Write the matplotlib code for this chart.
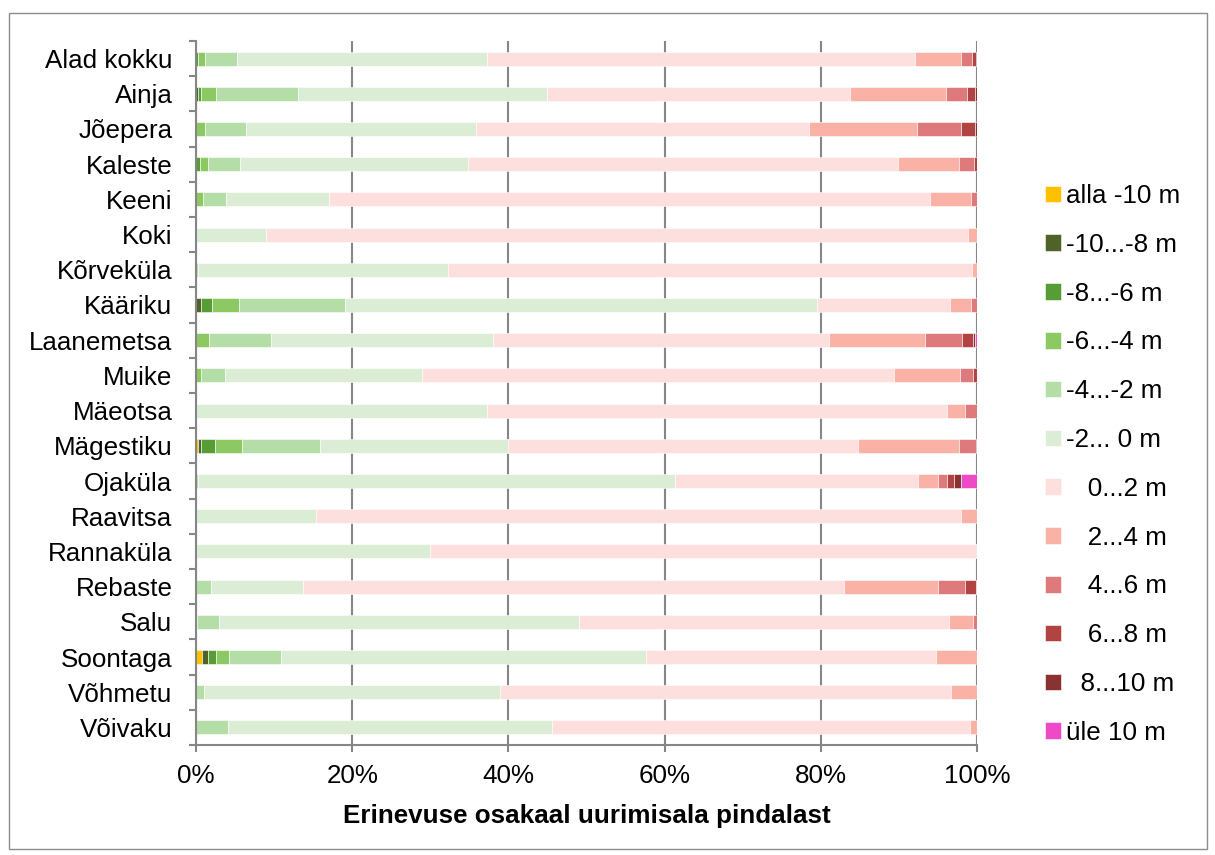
import matplotlib
matplotlib.use("Agg")
import matplotlib.pyplot as plt
from matplotlib.patches import Rectangle
from matplotlib.ticker import FixedLocator, PercentFormatter
import numpy as np

plt.rcParams['font.family'] = ['Liberation Sans', 'DejaVu Sans']

areas = ["Alad kokku", "Ainja", "Jõepera", "Kaleste", "Keeni", "Koki",
         "Kõrveküla", "Kääriku", "Laanemetsa", "Muike", "Mäeotsa",
         "Mägestiku", "Ojaküla", "Raavitsa", "Rannaküla", "Rebaste", "Salu",
         "Soontaga", "Võhmetu", "Võivaku"]

class_labels = ["alla -10 m", "-10...-8 m", "-8...-6 m", "-6...-4 m",
                "-4...-2 m", "-2... 0 m", "   0...2 m", "   2...4 m",
                "   4...6 m", "   6...8 m", "  8...10 m", "üle 10 m"]

# share of each height-difference class (%), one value per area
below_10 = [0, 0, 0, 0, 0, 0, 0, 0, 0, 0, 0, 0.3, 0, 0, 0, 0, 0, 0.8, 0, 0]
m10_m8 = [0, 0.2, 0, 0, 0, 0, 0, 0.6, 0, 0, 0, 0.4, 0, 0, 0, 0, 0, 0.7, 0, 0]
m8_m6 = [0.3, 0.4, 0, 0.5, 0, 0, 0, 1.5, 0, 0, 0, 1.7, 0, 0, 0, 0, 0, 1.0, 0, 0]
m6_m4 = [0.9, 2.0, 1.2, 1.0, 0.9, 0, 0, 3.4, 1.6, 0.6, 0, 3.5, 0, 0, 0, 0, 0.1, 1.7, 0, 0]
m4_m2 = [4.0, 10.4, 5.2, 4.1, 2.9, 0, 0.3, 13.6, 8.0, 3.1, 0, 10.0, 0.2, 0, 0, 1.9, 2.9, 6.7, 1.0, 4.1]
m2_0 = [32.0, 31.9, 29.4, 29.2, 13.2, 8.9, 32.0, 60.2, 28.3, 25.2, 37.2, 24.1, 61.1, 15.4, 29.9, 11.8, 46.0, 46.6, 37.9, 41.5]
p0_2 = [54.9, 38.9, 42.7, 55.0, 76.8, 89.9, 67.1, 17.0, 43.0, 60.5, 58.9, 44.7, 31.2, 82.4, 70.0, 69.3, 47.3, 37.2, 57.7, 53.5]
p2_4 = [5.9, 12.2, 13.8, 7.8, 5.2, 1.2, 0.6, 2.7, 12.2, 8.4, 2.4, 13.0, 2.5, 2.1, 0.1, 12.0, 3.1, 5.2, 3.3, 0.9]
p4_6 = [1.4, 2.7, 5.6, 1.9, 0.8, 0, 0, 0.8, 4.8, 1.7, 1.5, 2.2, 1.2, 0, 0, 3.4, 0.5, 0, 0, 0]
p6_8 = [0.5, 1.1, 1.8, 0.4, 0, 0, 0, 0, 1.4, 0.5, 0, 0.1, 0.9, 0, 0, 1.5, 0, 0, 0, 0]
p8_10 = [0.1, 0.2, 0.3, 0, 0, 0, 0, 0, 0.3, 0, 0, 0, 0.9, 0, 0, 0, 0, 0, 0, 0]
above_10 = [0, 0, 0, 0, 0, 0, 0, 0, 0.2, 0, 0, 0, 2.0, 0, 0, 0.1, 0, 0, 0, 0]

series = [below_10, m10_m8, m8_m6, m6_m4, m4_m2, m2_0,
          p0_2, p2_4, p4_6, p6_8, p8_10, above_10]

colors = ["#FFC000", "#4F6228", "#589C36", "#8DC963", "#B4DDA8", "#DCEDD6",
          "#FDE0DE", "#F9B2A5", "#DF7A7C", "#B14442", "#8A3232", "#EE4AC8"]

data = np.array(series, dtype=float)
shares = data / data.sum(axis=0) * 100.0

W, H = 1215, 855
fig = plt.figure(figsize=(W / 100, H / 100), dpi=100)
ax = fig.add_axes([196 / W, 1 - 745 / H, (977 - 196) / W, (745 - 41) / H])

y = np.arange(len(areas))
left = np.zeros(len(areas))
handles = []
for vals, col, lab in zip(shares, colors, class_labels):
    b = ax.barh(y, vals, left=left, height=0.4, color=col, label=lab,
                edgecolor="white", linewidth=0.4, zorder=3)
    handles.append(b)
    left += vals

grey = "#868686"
ax.set_xlim(0, 100)
ax.set_ylim(len(areas) - 0.5, -0.5)
ax.xaxis.set_major_locator(FixedLocator([0, 20, 40, 60, 80, 100]))
ax.xaxis.set_major_formatter(PercentFormatter(decimals=0))
ax.grid(axis="x", color=grey, linewidth=1.5, zorder=1)
ax.set_axisbelow(True)

ax.set_yticks(y)
ax.set_yticklabels(areas)
ax.set_yticks(np.arange(len(areas) + 1) - 0.5, minor=True)
ax.tick_params(axis="y", which="major", length=0, pad=17, labelsize=18.7)
ax.tick_params(axis="y", which="minor", length=5, width=1.5, color=grey,
               direction="out")
ax.tick_params(axis="x", which="major", length=5, width=1.5, color=grey,
               direction="out", pad=9, labelsize=18.7)

for s in ["top", "right"]:
    ax.spines[s].set_visible(False)
for s in ["left", "bottom"]:
    ax.spines[s].set_color(grey)
    ax.spines[s].set_linewidth(1.5)
    ax.spines[s].set_zorder(4)

fig.text(586.5 / W, 1 - 816 / H, "Erinevuse osakaal uurimisala pindalast",
         ha="center", va="center", fontsize=18.7, fontweight="bold")

leg = fig.legend(handles=handles, loc="upper left",
                 bbox_to_anchor=(1045 / W, 1 - 184 / H),
                 frameon=False, fontsize=18.7, handlelength=0.6,
                 handleheight=0.6, handletextpad=0.2, labelspacing=0.955,
                 borderpad=0, borderaxespad=0)

fig.patches.append(Rectangle((9 / W, 1 - 849 / H), (1207 - 9) / W,
                             (849 - 13) / H, transform=fig.transFigure,
                             fill=False, edgecolor="#8C8C8C", linewidth=1.0))

fig.savefig("out.png", dpi=100)
